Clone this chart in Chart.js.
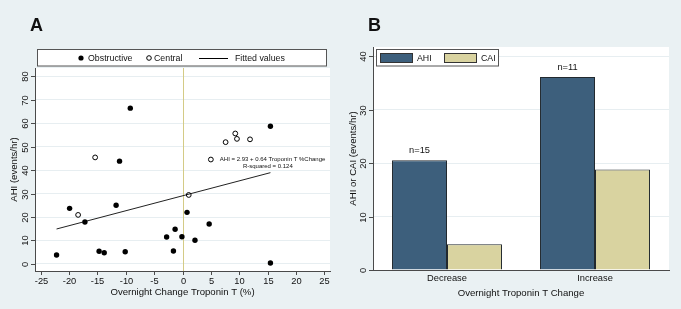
<!DOCTYPE html>
<html>
<head>
<meta charset="utf-8">
<script src="https://cdn.jsdelivr.net/npm/chart.js@4.4.1/dist/chart.umd.min.js"></script>
<style>
body{margin:0;background:#eaf1f3;}
#wrap{position:relative;width:681px;height:309px;}
canvas{position:absolute;top:0;}
</style>
</head>
<body>
<div id="wrap">
<canvas id="chartA" width="340" height="309" style="left:0"></canvas>
<canvas id="chartB" width="341" height="309" style="left:340px"></canvas>
</div>
<script>
// Panel A data - AHI vs overnight troponin T change
const obstructiveX = [-22.2, -19.9, -17.2, -14.7, -13.8, -11.7, -11.1, -10.1, -9.2, -2.8, -1.6, -1.3, -0.1, 0.8, 2.2, 4.7, 15.5, 15.5]
const obstructiveY = [3.8, 23.7, 17.9, 5.4, 4.8, 25.0, 43.8, 5.2, 66.4, 11.5, 5.5, 14.8, 11.6, 22.0, 10.1, 17.0, 58.7, 0.4]
const centralX = [-18.4, -15.4, 1.1, 7.6, 9.3, 9.6, 11.9]
const centralY = [20.9, 45.4, 29.4, 51.9, 55.6, 53.3, 53.1]
const fittedX = [-22.2, 15.5]
const fittedY = [14.9, 38.9]
const fitNoteX = [5.0]
const fitNoteY = [44.5]
const fitNote = ['AHI = 2.93 + 0.64 Troponin T %Change', 'R-squared = 0.124']
const xTicksA = [-25, -20, -15, -10, -5, 0, 5, 10, 15, 20, 25]
const yTicksA = [0, 10, 20, 30, 40, 50, 60, 70, 80]

// Panel B data - mean AHI / CAI by direction of change
const categoriesB = ['Decrease', 'Increase']
const ahiB = [20.5, 36.1]
const caiB = [4.8, 18.8]
const nLabelsB = ['n=15', 'n=11']
const yTicksB = [0, 10, 20, 30, 40]

const FONT = '"Liberation Sans", Arial, Helvetica, sans-serif'
const BG = '#eaf1f3'
const AXIS = '#4a4a4a'
const TEXT = '#111'
function font(size, bold) { return (bold ? 'bold ' : '') + size + 'px ' + FONT }
function pts(xs, ys) { return xs.map((x, i) => ({x: x, y: ys[i]})) }

// draws background, white plot region, panel letter, rotated y ticks and titles
const stataFrame = {
    id: 'stataFrame',
    beforeDraw(chart, args, o) {
        const {ctx, chartArea: a} = chart
        ctx.save()
        ctx.fillStyle = BG
        ctx.fillRect(0, 0, chart.width, chart.height)
        ctx.fillStyle = '#fff'
        ctx.fillRect(a.left, a.top, a.right - a.left, a.bottom - a.top)
        ctx.restore()
    },
    afterDraw(chart, args, o) {
        const {ctx, chartArea: a} = chart
        const xs = chart.scales.x, ys = chart.scales.y
        ctx.save()
        ctx.fillStyle = TEXT
        ctx.strokeStyle = AXIS
        ctx.lineWidth = 1
        // letter
        ctx.font = font(18, true)
        ctx.textAlign = 'left'
        ctx.textBaseline = 'alphabetic'
        ctx.fillText(o.letter, o.letterX, 31)
        // y ticks, rotated
        ctx.font = font(9.3)
        ctx.textAlign = 'center'
        ctx.textBaseline = 'middle'
        o.yTicks.forEach(v => {
            const y = Math.round(ys.getPixelForValue(v)) + 0.5
            ctx.beginPath(); ctx.moveTo(a.left - 4, y); ctx.lineTo(a.left, y); ctx.stroke()
            ctx.save()
            ctx.translate(a.left - 10, y)
            ctx.rotate(-Math.PI / 2)
            ctx.fillText(String(v), 0, 0)
            ctx.restore()
        })
        // x ticks
        o.xTicks.forEach((v, i) => {
            const x = o.category ? xs.getPixelForValue(i) : Math.round(xs.getPixelForValue(v)) + 0.5
            if (!o.category) {
                ctx.beginPath(); ctx.moveTo(x, a.bottom); ctx.lineTo(x, a.bottom + 4); ctx.stroke()
            }
            ctx.fillText(String(v), x, a.bottom + (o.category ? 8 : 10))
        })
        // titles
        ctx.font = font(9.6)
        ctx.fillText(o.xTitle, (a.left + a.right) / 2, a.bottom + (o.category ? 23 : 21))
        ctx.save()
        ctx.translate(o.yTitleX, (a.top + a.bottom) / 2)
        ctx.rotate(-Math.PI / 2)
        ctx.fillText(o.yTitle, 0, 0)
        ctx.restore()
        ctx.restore()
    }
}

// Panel A extras: zero reference line, legend box, fit annotation text
const panelAExtras = {
    id: 'panelAExtras',
    beforeDatasetsDraw(chart) {
        const {ctx, chartArea: a} = chart
        const x = Math.round(chart.scales.x.getPixelForValue(0)) + 0.5
        ctx.save()
        ctx.strokeStyle = '#d4cb86'
        ctx.lineWidth = 1
        ctx.beginPath(); ctx.moveTo(x, a.top); ctx.lineTo(x, a.bottom); ctx.stroke()
        ctx.restore()
    },
    afterDraw(chart) {
        const ctx = chart.ctx
        ctx.save()
        // legend
        ctx.fillStyle = '#fff'
        ctx.fillRect(37.5, 49.5, 289, 16.5)
        ctx.strokeStyle = '#555'
        ctx.lineWidth = 1
        ctx.strokeRect(37.5, 49.5, 289, 16.5)
        const ly = 58
        ctx.fillStyle = '#000'
        ctx.beginPath(); ctx.arc(81, ly, 2.6, 0, Math.PI * 2); ctx.fill()
        ctx.beginPath(); ctx.arc(149, ly, 2.3, 0, Math.PI * 2); ctx.strokeStyle = '#000'; ctx.stroke()
        ctx.beginPath(); ctx.moveTo(199, ly + 0.5); ctx.lineTo(228, ly + 0.5); ctx.stroke()
        ctx.fillStyle = TEXT
        ctx.font = font(8.8)
        ctx.textAlign = 'left'
        ctx.textBaseline = 'middle'
        ctx.fillText('Obstructive', 88, ly + 0.5)
        ctx.fillText('Central', 154, ly + 0.5)
        ctx.fillText('Fitted values', 235, ly + 0.5)
        // fit annotation
        const px = chart.scales.x.getPixelForValue(fitNoteX[0])
        const py = chart.scales.y.getPixelForValue(fitNoteY[0])
        ctx.font = font(6)
        ctx.fillText(fitNote[0], px + 9, py)
        ctx.textAlign = 'center'
        ctx.fillText(fitNote[1], px + 57, py + 7)
        ctx.restore()
    }
}

function getScatterChart(canvasID) {
    const data = {
        datasets: [{
            label: 'Obstructive',
            data: pts(obstructiveX, obstructiveY),
            backgroundColor: '#000',
            borderColor: '#000',
            pointRadius: 2.7,
            pointBorderWidth: 0
        },
        {
            label: 'Central',
            data: pts(centralX, centralY),
            backgroundColor: 'rgba(0,0,0,0)',
            borderColor: '#000',
            pointRadius: 2.4,
            pointBorderWidth: 1
        },
        {
            label: 'Fitted values',
            data: pts(fittedX, fittedY),
            showLine: true,
            borderColor: '#222',
            borderWidth: 1,
            pointRadius: 0
        },
        {
            label: 'note',
            data: pts(fitNoteX, fitNoteY),
            backgroundColor: 'rgba(0,0,0,0)',
            borderColor: '#000',
            pointRadius: 2.4,
            pointBorderWidth: 1
        }
    ]}
    const options = {
        responsive: false,
        animation: false,
        devicePixelRatio: 1,
        layout: {padding: {left: 35, top: 68, right: 10, bottom: 38}},
        plugins: {
            legend: {display: false},
            tooltip: {enabled: false},
            stataFrame: {
                letter: 'A', letterX: 30,
                xTicks: xTicksA, yTicks: yTicksA,
                xTitle: 'Overnight Change Troponin T (%)',
                yTitle: 'AHI (events/hr)', yTitleX: 14
            }
        },
        scales: {
            x: {
                type: 'linear', min: -26, max: 26,
                ticks: {display: false},
                grid: {display: false, drawTicks: false},
                border: {display: true, color: AXIS}
            },
            y: {
                type: 'linear', min: -3, max: 83.5,
                afterBuildTicks: s => { s.ticks = yTicksA.map(v => ({value: v})) },
                ticks: {display: false},
                grid: {color: '#e7eef1', drawTicks: false},
                border: {display: true, color: AXIS}
            }
        }
    }
    return new Chart(document.getElementById(canvasID), {
        type: 'scatter', data: data, options: options, plugins: [stataFrame, panelAExtras]
    })
}

// Panel B extras: n labels over AHI bars and the legend box
const panelBExtras = {
    id: 'panelBExtras',
    afterDraw(chart) {
        const ctx = chart.ctx
        ctx.save()
        ctx.fillStyle = TEXT
        ctx.font = font(9.3)
        ctx.textAlign = 'center'
        ctx.textBaseline = 'middle'
        chart.getDatasetMeta(0).data.forEach((bar, i) => {
            ctx.fillText(nLabelsB[i], bar.x, bar.y - 9.5)
        })
        // legend
        ctx.fillStyle = '#fff'
        ctx.fillRect(36.5, 49.5, 122, 16.5)
        ctx.strokeStyle = '#555'
        ctx.lineWidth = 1
        ctx.strokeRect(36.5, 49.5, 122, 16.5)
        const sw = [[40.5, '#3d5f7c', 'AHI', 77], [104.5, '#d9d3a0', 'CAI', 141]]
        sw.forEach(s => {
            ctx.fillStyle = s[1]
            ctx.fillRect(s[0], 53.5, 32, 9)
            ctx.strokeStyle = '#333'
            ctx.strokeRect(s[0], 53.5, 32, 9)
            ctx.fillStyle = TEXT
            ctx.font = font(8.8)
            ctx.textAlign = 'left'
            ctx.fillText(s[2], s[3], 58.5)
        })
        ctx.restore()
    }
}

function getBarChart(canvasID) {
    const data = {
        labels: categoriesB,
        datasets: [{
            label: 'AHI',
            data: ahiB,
            backgroundColor: '#3d5f7c',
            borderColor: '#22292e',
            borderWidth: 1
        },
        {
            label: 'CAI',
            data: caiB,
            backgroundColor: '#d9d3a0',
            borderColor: '#22292e',
            borderWidth: 1
        }
    ]}
    const options = {
        responsive: false,
        animation: false,
        devicePixelRatio: 1,
        layout: {padding: {left: 33, top: 47, right: 12, bottom: 39}},
        datasets: {bar: {categoryPercentage: 0.743, barPercentage: 1.0}},
        plugins: {
            legend: {display: false},
            tooltip: {enabled: false},
            stataFrame: {
                letter: 'B', letterX: 28, category: true,
                xTicks: categoriesB, yTicks: yTicksB,
                xTitle: 'Overnight Troponin T Change',
                yTitle: 'AHI or CAI (events/hr)', yTitleX: 13
            }
        },
        scales: {
            x: {
                ticks: {display: false},
                grid: {display: false, drawTicks: false},
                border: {display: true, color: AXIS}
            },
            y: {
                min: 0, max: 41.7,
                afterBuildTicks: s => { s.ticks = yTicksB.map(v => ({value: v})) },
                ticks: {display: false},
                grid: {color: '#e7eef1', drawTicks: false},
                border: {display: true, color: AXIS}
            }
        }
    }
    return new Chart(document.getElementById(canvasID), {
        type: 'bar', data: data, options: options, plugins: [stataFrame, panelBExtras]
    })
}

getScatterChart('chartA')
getBarChart('chartB')
</script>
</body>
</html>
